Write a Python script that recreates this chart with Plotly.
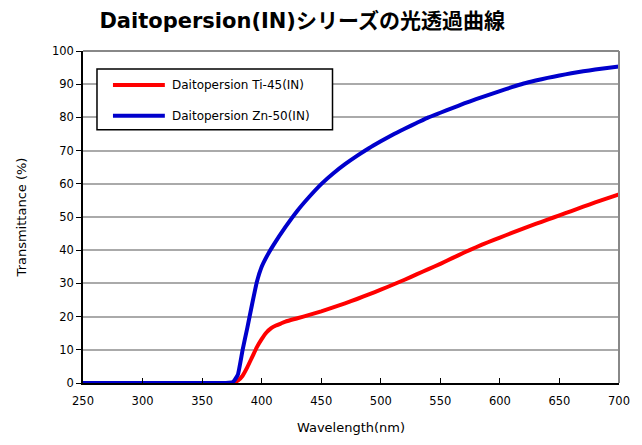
import plotly.graph_objects as go

wl_ti = [250, 300, 350, 370, 376, 380, 384, 388, 392, 396, 400, 404, 408, 412, 416, 420, 430, 440, 450, 460, 470, 480, 490, 500,
         510, 520, 530, 540, 550, 560, 570, 580, 590, 600, 610, 620, 630, 640, 650, 660, 670, 680, 690, 700]
t_ti = [0, 0, 0, 0, 0.1, 0.7, 2.2, 4.8, 7.8, 10.8, 13.2, 15.2, 16.5, 17.3, 17.9, 18.5, 19.5, 20.5, 21.6, 22.8, 24.0, 25.3, 26.7, 28.1,
        29.6, 31.1, 32.7, 34.3, 35.9, 37.6, 39.3, 40.9, 42.4, 43.8, 45.2, 46.6, 47.9, 49.2, 50.5, 51.8, 53.1, 54.4, 55.6, 56.8]

wl_zn = [250, 300, 350, 370, 376, 380, 384, 388, 392, 396, 400, 405, 410, 420, 430, 440, 450, 460, 470, 480, 490, 500,
         510, 520, 530, 540, 550, 560, 570, 580, 590, 600, 610, 620, 630, 640, 650, 660, 670, 680, 690, 700]
t_zn = [0, 0, 0, 0, 0.3, 2.5, 10.0, 16.7, 23.8, 30.5, 35.0, 38.6, 41.6, 47.0, 51.9, 56.1, 59.9, 63.1, 65.9, 68.4, 70.7, 72.8,
        74.8, 76.6, 78.3, 80.0, 81.4, 82.8, 84.2, 85.5, 86.7, 87.9, 89.1, 90.2, 91.1, 91.9, 92.6, 93.3, 93.9, 94.4, 94.9, 95.3]

series_names = ["Daitopersion Ti-45(IN)", "Daitopersion Zn-50(IN)"]
series_colors = ["#ff0000", "#0000cc"]

x_ticks = [250, 300, 350, 400, 450, 500, 550, 600, 650, 700]
y_ticks = [0, 10, 20, 30, 40, 50, 60, 70, 80, 90, 100]

FONT = "DejaVu Sans, Noto Sans CJK JP, sans-serif"

fig = go.Figure()
for wl, t, name, col in zip([wl_ti, wl_zn], [t_ti, t_zn], series_names, series_colors):
    fig.add_trace(go.Scatter(x=wl, y=t, mode="lines", name=name, showlegend=False,
                             line=dict(color=col, width=4, shape="spline", smoothing=0.4)))

# gray top/right frame
fig.add_shape(type="line", xref="paper", yref="paper", x0=0, x1=1, y0=1, y1=1,
              line=dict(color="#888888", width=2))
fig.add_shape(type="line", xref="paper", yref="paper", x0=1, x1=1, y0=0, y1=1,
              line=dict(color="#888888", width=2))

# legend box (drawn manually to match the original layout)
fig.add_shape(type="rect", xref="paper", yref="paper", x0=0.0261, x1=0.4655, y0=0.7628, y1=0.9459,
              line=dict(color="black", width=1.5), fillcolor="white", layer="above")
for i, (name, col) in enumerate(zip(series_names, series_colors)):
    yy = [0.8979, 0.8048][i]
    fig.add_shape(type="line", xref="paper", yref="paper", x0=0.0559, x1=0.1527, y0=yy, y1=yy,
                  line=dict(color=col, width=4), layer="above")
    fig.add_annotation(xref="paper", yref="paper", x=0.162, y=yy, text=name, showarrow=False,
                       xanchor="left", yanchor="middle", font=dict(size=12, family=FONT))

fig.update_layout(
    width=634, height=437,
    margin=dict(l=75, r=14, t=43, b=61),
    paper_bgcolor="white", plot_bgcolor="white",
    font=dict(family=FONT, size=11.5, color="black"),
    title=dict(text="<b>Daitopersion(IN)シリーズの光透過曲線</b>", x=0.464, xanchor="center",
               y=0.972, yanchor="middle", font=dict(size=21, family=FONT)),
    showlegend=False,
    xaxis=dict(range=[250, 700], tickvals=x_ticks, ticks="inside", ticklen=5, tickcolor="black",
               ticklabelstandoff=6,
               showgrid=False, zeroline=False, showline=True, linecolor="black", linewidth=1.5,
               title=dict(text="Wavelength(nm)", font=dict(size=13), standoff=16)),
    yaxis=dict(range=[0, 100], tickvals=y_ticks, ticks="outside", ticklen=5, tickcolor="black",
               showgrid=True, gridcolor="#aaaaaa", gridwidth=1.5, zeroline=False,
               showline=True, linecolor="black", linewidth=1.5,
               title=dict(text="Transmittance (%)", font=dict(size=13), standoff=22)),
)

fig.write_html("out.html")
